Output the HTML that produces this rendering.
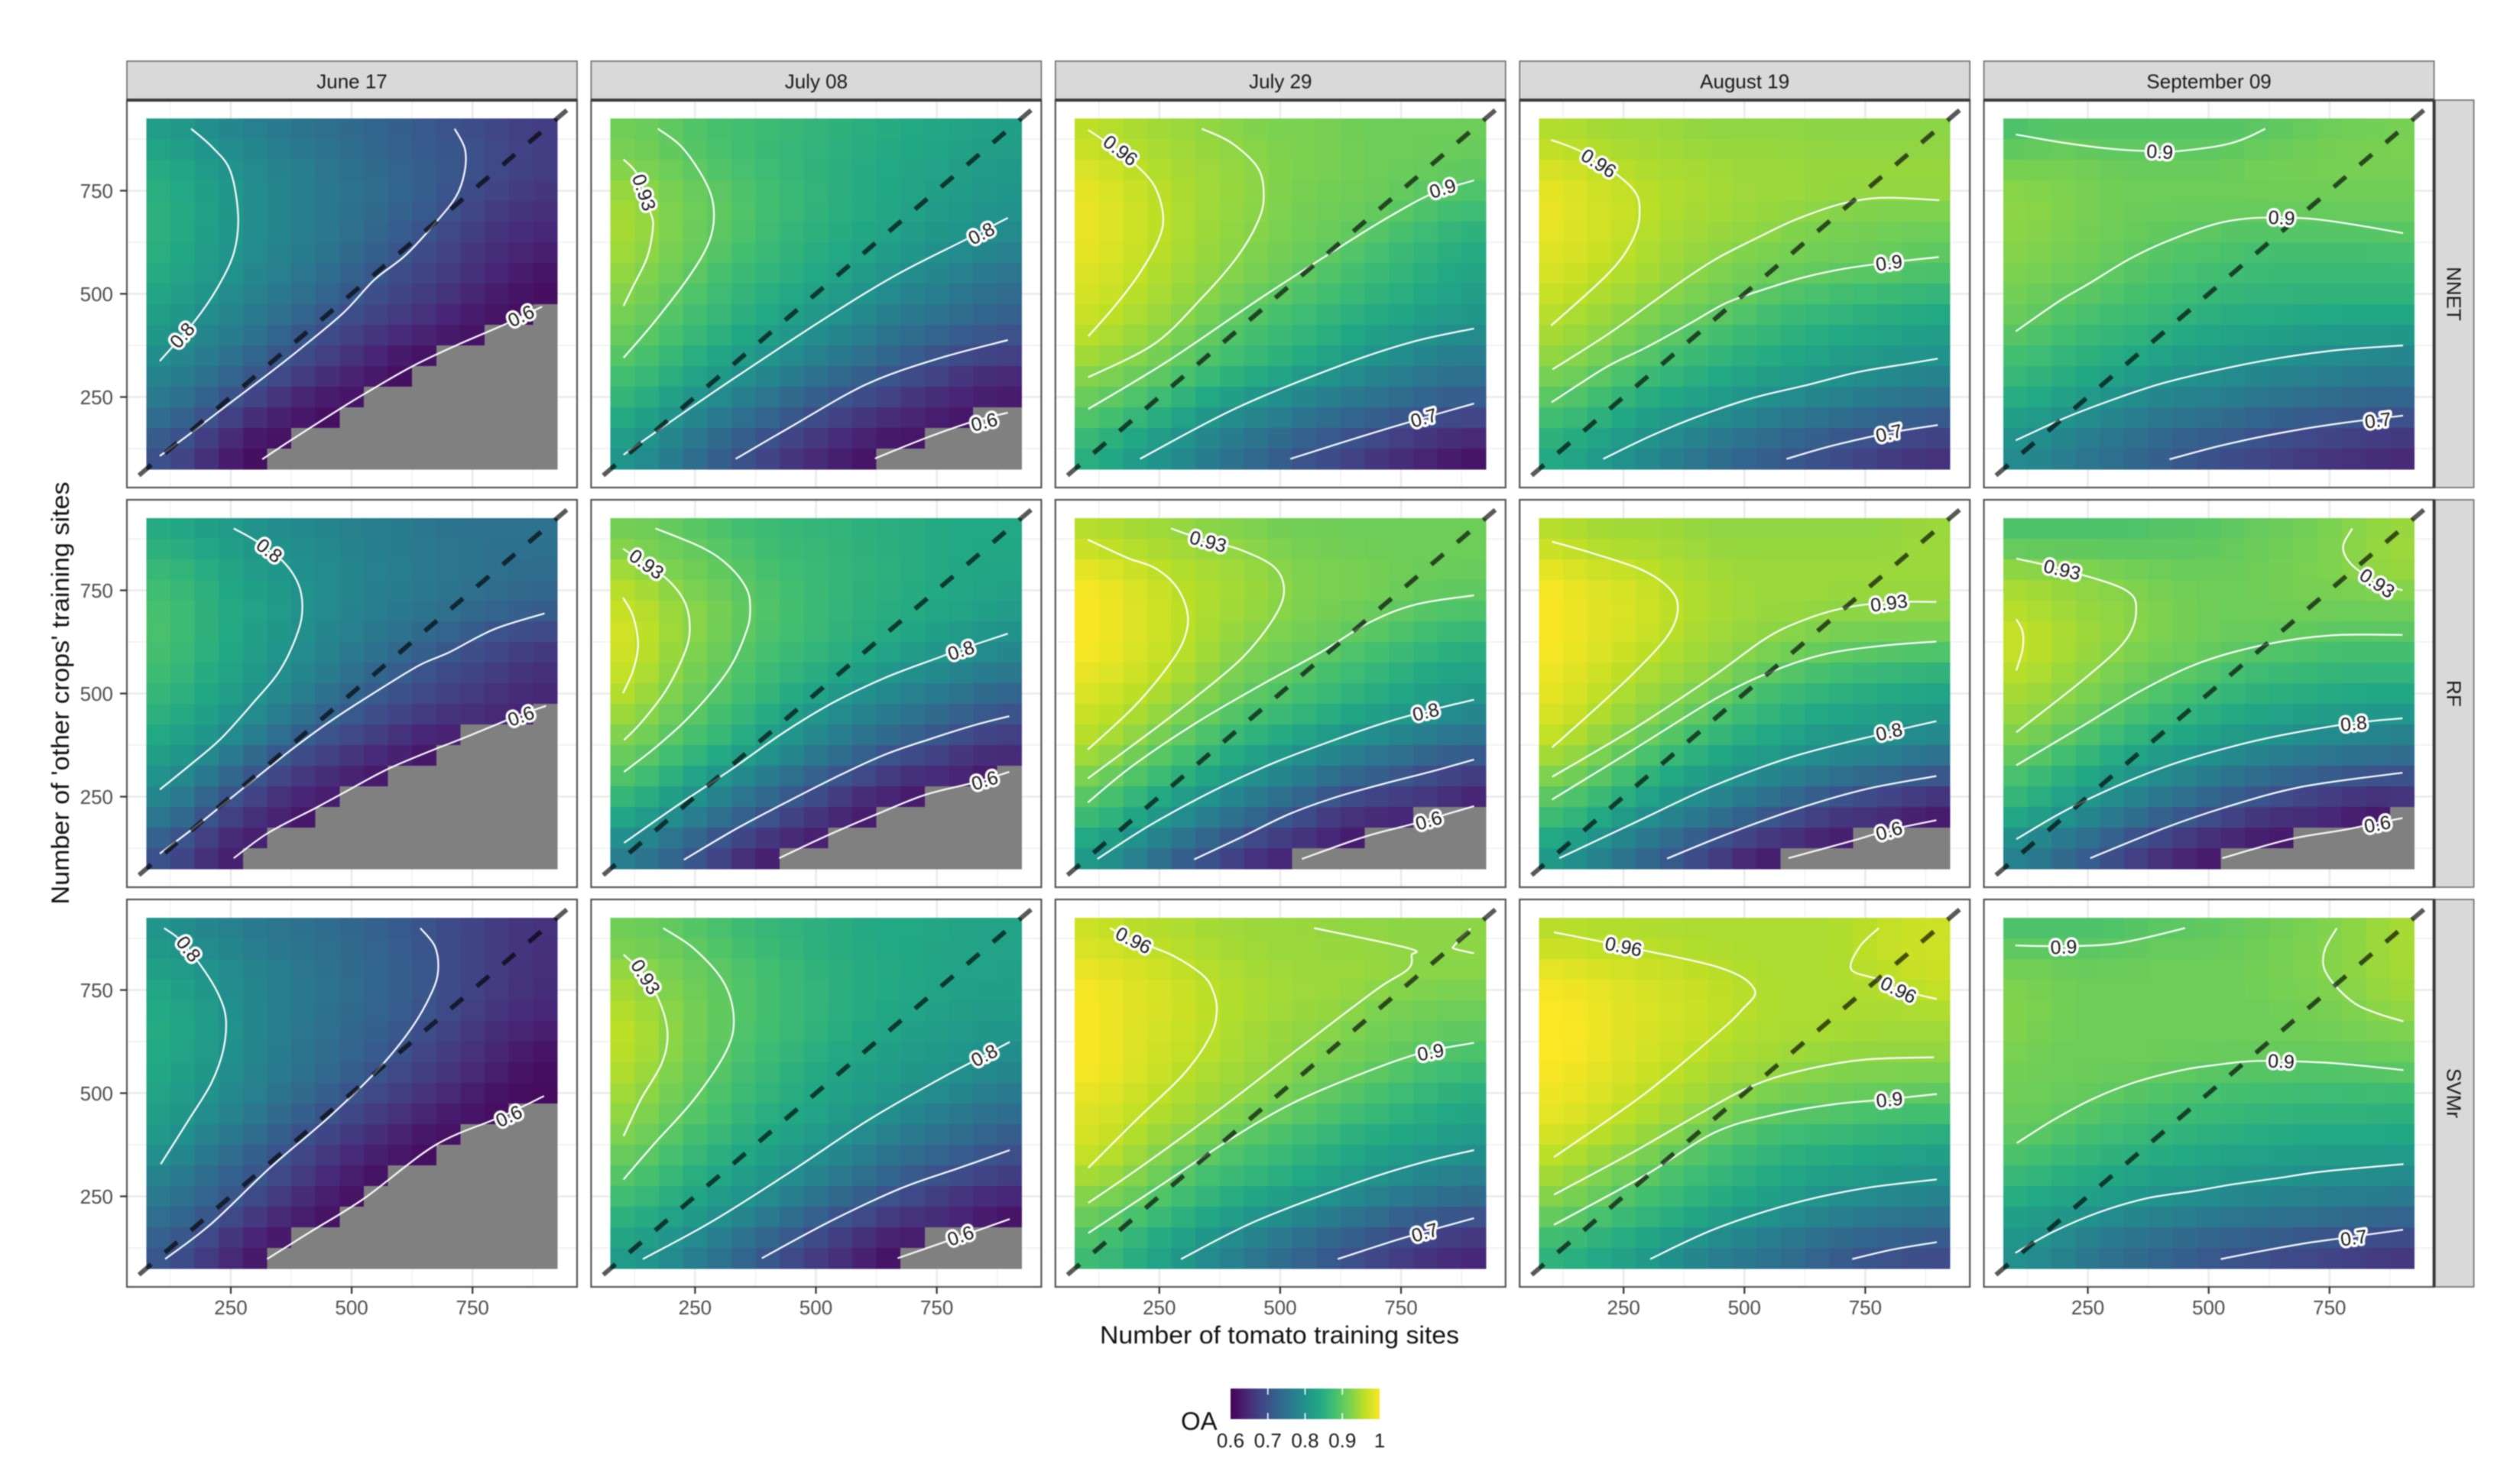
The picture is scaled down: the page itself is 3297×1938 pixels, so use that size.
<!DOCTYPE html>
<html lang="en">
<head>
<meta charset="utf-8">
<title>OA contour facets</title>
<style>
html,body{margin:0;padding:0;background:#fff;}
svg{display:block;font-family:"Liberation Sans",sans-serif;filter:blur(0.7px);}
</style>
</head>
<body>
<svg id="chart" xmlns="http://www.w3.org/2000/svg" width="3297" height="1938" viewBox="0 0 3297 1938">
<rect x="0" y="0" width="3297" height="1938" fill="#ffffff"/>
<g id="facets"></g>
<text x="1674" y="1758" font-size="32" fill="#111" text-anchor="middle" textLength="470" lengthAdjust="spacingAndGlyphs">Number of tomato training sites</text>
<text transform="translate(90,907) rotate(-90)" font-size="32" fill="#111" text-anchor="middle" textLength="553" lengthAdjust="spacingAndGlyphs">Number of 'other crops' training sites</text>
<g id="legend">
<text x="1545" y="1871" font-size="33" fill="#111">OA</text>
</g>
</svg>
<script>
// ---- categories ----
const sitesX = [100,150,200,250,300,350,400,450,500,550,600,650,700,750,800,850,900];
const sitesY = [900,850,800,750,700,650,600,550,500,450,400,350,300,250,200,150,100];
const dates = ["June 17","July 08","July 29","August 19","September 09"];
const methods = ["NNET","RF","SVMr"];
const majorTicks = [250,500,750];
const minorTicks = [125,375,625,875];
const tickLabels = ["250","500","750"];
const legendTicks = [0.6,0.7,0.8,0.9,1];
const legendLabels = ["0.6","0.7","0.8","0.9","1"];
const diagonal = [60,945];

// ---- OA in percent; rows run from y=900 down to y=100; 0 means below the colour limit ----
const oaNnetJune = [
[82,81,79,78,77,76,75,74,74,73,72,71,70,69,68,67,67],
[84,82,81,79,78,77,76,75,74,73,72,71,71,70,69,68,67],
[85,83,82,80,79,78,77,76,75,74,73,72,71,70,69,68,67],
[86,84,83,81,79,78,77,76,75,74,73,72,71,69,68,67,66],
[86,84,83,81,79,78,77,76,75,74,73,71,70,68,67,66,65],
[86,84,83,81,79,78,77,76,75,73,72,70,69,67,66,65,64],
[86,84,82,81,79,78,77,75,74,72,71,69,68,66,65,64,63],
[85,83,82,80,78,77,76,74,73,71,69,68,67,66,64,63,62],
[84,82,81,79,78,76,75,73,71,70,68,67,66,64,63,62,61],
[83,81,79,78,76,75,73,71,69,68,67,66,64,63,62,61,0],
[82,80,78,77,75,73,71,69,68,66,65,64,62,61,0,0,0],
[80,78,77,75,73,71,69,67,66,64,62,61,0,0,0,0,0],
[78,77,75,73,71,69,67,66,64,62,61,0,0,0,0,0,0],
[77,75,73,70,68,66,64,62,61,0,0,0,0,0,0,0,0],
[75,73,70,68,65,63,62,61,0,0,0,0,0,0,0,0,0],
[72,70,67,64,62,61,0,0,0,0,0,0,0,0,0,0,0],
[70,67,65,62,61,0,0,0,0,0,0,0,0,0,0,0,0]];
const oaNnetJul08 = [
[91,91,90,89,88,88,87,87,86,86,85,85,84,84,83,83,83],
[92,91,90,89,88,88,87,86,86,85,85,84,84,83,83,82,82],
[93,92,91,90,89,88,87,86,86,85,84,84,83,83,82,82,81],
[94,93,92,91,90,89,88,87,86,85,85,84,83,83,82,81,81],
[95,94,92,91,90,89,88,87,86,85,84,84,83,82,81,81,80],
[95,94,92,91,90,89,87,86,85,85,84,83,82,81,81,80,79],
[95,93,92,91,89,88,87,86,85,84,83,82,81,80,79,78,77],
[94,92,91,90,88,87,86,85,84,83,82,81,79,78,77,76,75],
[93,92,90,89,87,86,85,84,83,82,80,79,78,77,76,75,74],
[92,91,89,88,87,85,84,83,81,80,79,77,76,75,74,73,72],
[91,90,88,87,85,84,83,81,79,78,77,75,74,73,72,71,70],
[90,88,87,85,84,82,81,79,78,76,75,74,72,70,69,68,67],
[88,87,85,83,81,80,78,76,75,74,72,70,69,68,66,65,64],
[87,85,83,81,79,77,76,74,72,70,69,68,66,65,64,63,62],
[85,83,80,78,76,74,73,71,69,68,66,65,64,63,61,0,0],
[83,80,78,76,74,72,70,68,66,65,63,62,61,0,0,0,0],
[81,78,76,73,71,69,67,65,64,63,61,0,0,0,0,0,0]];
const oaNnetJul29 = [
[96,95,95,94,94,93,93,92,92,92,92,91,91,91,91,91,91],
[97,96,95,95,94,94,93,93,92,92,92,91,91,91,91,91,91],
[98,97,96,95,95,94,94,93,93,92,92,92,91,91,91,90,90],
[99,98,97,96,95,94,94,93,92,92,91,91,91,90,90,89,89],
[99,98,97,96,95,94,94,93,92,92,91,91,91,90,89,88,87],
[99,98,97,96,95,94,93,93,92,91,91,91,89,88,87,86,85],
[99,98,97,96,95,94,93,92,92,91,90,89,88,87,86,85,84],
[98,97,96,95,94,93,93,92,91,90,89,88,87,86,85,84,83],
[98,97,96,95,94,93,92,91,90,89,88,87,86,85,84,83,82],
[97,96,95,94,93,92,90,89,88,87,86,85,84,84,83,82,81],
[96,95,94,93,92,90,89,88,87,86,85,84,83,82,80,79,79],
[95,94,93,92,90,89,88,87,86,85,84,82,80,79,78,77,77],
[93,92,91,90,89,87,86,85,83,82,80,79,78,77,76,75,74],
[91,90,89,87,86,84,82,81,79,78,77,76,75,74,73,72,72],
[90,88,87,85,83,81,79,78,77,76,74,73,72,71,70,69,68],
[87,85,84,82,80,78,76,75,74,72,71,70,69,67,66,65,64],
[85,83,81,79,78,76,74,73,71,69,68,67,65,64,63,62,61]];
const oaNnetAug19 = [
[95,95,94,94,94,94,93,93,93,93,93,93,93,93,93,93,93],
[96,96,95,95,95,94,94,94,94,94,94,93,93,93,93,93,93],
[98,97,97,95,95,95,95,94,94,94,94,94,94,94,94,94,94],
[99,98,97,97,96,95,95,95,94,94,94,94,94,94,94,94,94],
[99,98,97,97,96,95,95,94,94,94,94,93,92,92,92,92,92],
[99,98,97,97,95,95,94,94,94,93,92,92,92,92,91,91,91],
[98,98,97,96,95,94,94,93,92,92,92,91,91,91,91,90,90],
[98,97,96,95,95,94,93,92,92,91,91,91,90,90,90,89,89],
[97,96,95,95,94,93,92,91,91,89,89,88,88,87,87,86,86],
[96,95,94,93,92,91,91,90,89,88,87,86,86,85,85,84,84],
[95,94,93,92,91,90,89,88,87,86,85,85,84,84,83,83,82],
[94,93,92,91,89,88,87,86,85,85,84,83,82,82,81,81,80],
[92,91,90,88,87,86,85,84,83,82,82,81,80,79,79,78,78],
[90,89,88,86,85,84,83,82,81,80,79,78,78,77,76,75,75],
[88,87,85,84,82,81,80,79,78,77,76,75,74,73,73,72,71],
[86,85,83,82,80,79,78,76,75,74,73,72,71,70,69,68,67],
[84,82,81,79,78,76,75,73,72,71,70,69,68,67,66,65,65]];
const oaNnetSep09 = [
[88,88,89,89,89,89,89,89,89,89,89,90,90,91,91,91,92],
[90,91,91,90,90,90,90,90,90,90,91,91,91,92,92,92,92],
[92,92,92,92,91,91,91,91,91,91,92,92,92,92,92,92,92],
[93,93,92,92,91,91,91,91,91,91,91,91,91,91,91,91,91],
[93,93,92,92,91,91,91,91,91,91,91,91,91,91,91,91,91],
[93,93,92,92,91,91,90,90,90,89,89,89,89,89,89,89,90],
[93,92,92,91,91,90,89,89,89,88,88,88,88,88,88,88,88],
[92,92,91,91,90,89,89,88,88,88,87,87,87,87,87,87,87],
[92,91,90,90,89,88,88,87,87,86,86,86,86,86,86,86,86],
[91,90,89,88,88,87,87,86,85,85,85,85,84,84,84,84,84],
[90,89,88,87,86,86,85,84,84,83,83,82,82,82,81,81,81],
[88,87,86,85,85,84,83,82,82,81,81,80,80,79,79,79,78],
[87,86,85,84,83,82,81,80,80,79,78,78,77,77,76,76,76],
[85,84,83,82,80,79,78,78,77,77,76,75,75,74,74,73,73],
[83,82,80,79,78,77,76,75,75,74,73,72,72,71,71,70,70],
[80,79,78,77,75,74,73,72,72,71,70,69,68,68,67,67,66],
[79,78,76,75,74,73,72,70,69,68,68,67,66,65,65,64,64]];
const oaRfJune = [
[84,83,82,81,80,79,78,78,77,77,76,76,75,75,75,75,75],
[86,85,84,83,81,80,79,79,78,77,77,76,76,75,75,75,75],
[87,86,85,83,82,81,80,79,78,77,77,76,76,75,75,74,74],
[88,87,85,84,83,81,80,79,78,77,77,76,75,75,74,74,73],
[89,87,86,84,83,82,80,79,78,77,76,76,75,74,73,73,72],
[89,87,86,84,83,81,80,78,77,76,75,74,73,72,70,69,68],
[89,87,85,84,82,80,79,78,76,75,74,72,70,69,68,67,66],
[88,86,85,83,82,80,78,77,75,74,71,70,69,68,67,66,65],
[87,85,84,82,80,79,77,75,73,71,70,69,68,67,66,65,64],
[86,84,83,81,79,77,75,73,71,70,68,67,66,65,64,63,0],
[85,83,81,79,77,75,72,70,69,67,66,64,62,0,0,0,0],
[83,81,79,77,74,71,69,68,66,65,63,61,0,0,0,0,0],
[81,79,76,73,70,68,66,65,63,61,0,0,0,0,0,0,0],
[79,76,73,70,68,66,64,62,0,0,0,0,0,0,0,0,0],
[77,74,70,68,65,63,61,0,0,0,0,0,0,0,0,0,0],
[73,70,67,64,62,0,0,0,0,0,0,0,0,0,0,0,0],
[70,67,65,62,0,0,0,0,0,0,0,0,0,0,0,0,0]];
const oaRfJul08 = [
[91,91,90,89,88,87,87,86,86,86,85,85,85,84,84,84,84],
[93,92,91,91,90,89,88,87,87,86,86,85,85,84,84,84,84],
[95,93,92,91,90,89,88,87,87,86,86,85,85,84,84,83,83],
[96,95,93,92,91,90,89,88,87,86,86,85,85,84,84,83,83],
[97,96,94,93,92,90,89,88,87,86,85,85,84,84,83,83,82],
[98,96,94,93,92,90,89,88,87,86,85,85,84,83,82,81,80],
[98,96,94,92,91,89,88,87,86,85,84,83,82,81,80,79,78],
[97,95,93,92,90,89,87,86,85,84,83,81,80,79,78,77,76],
[96,94,92,91,89,88,86,85,83,81,79,78,77,76,75,74,72],
[95,93,91,90,88,86,85,83,80,79,78,77,75,74,73,71,70],
[93,91,90,88,87,85,82,80,78,77,75,74,73,71,69,68,67],
[91,90,88,86,85,83,81,79,77,75,73,70,69,68,67,65,64],
[90,88,85,83,80,78,76,74,72,70,68,67,65,64,63,61,0],
[87,85,83,80,78,76,74,71,69,67,65,63,61,0,0,0,0],
[84,82,79,77,75,73,70,68,66,64,61,0,0,0,0,0,0],
[81,78,76,73,70,68,66,64,61,0,0,0,0,0,0,0,0],
[76,74,72,69,67,64,61,0,0,0,0,0,0,0,0,0,0]];
const oaRfJul29 = [
[95,95,94,94,93,92,92,92,91,91,91,91,91,91,91,91,91],
[97,96,95,95,95,94,94,93,92,92,92,91,91,91,91,91,91],
[99,98,97,96,95,95,94,94,93,92,92,92,92,91,91,91,91],
[100,99,98,97,96,95,95,94,93,92,92,92,92,91,91,90,90],
[100,99,98,97,96,95,94,94,93,92,92,91,91,90,89,89,89],
[100,99,98,97,96,95,94,93,92,92,91,90,90,89,88,87,86],
[100,99,98,97,96,94,93,92,91,91,90,89,88,87,86,85,85],
[99,98,97,96,95,94,92,91,91,89,88,87,86,85,84,83,83],
[98,97,96,95,94,92,91,90,89,88,87,86,85,84,83,82,81],
[97,96,95,94,92,91,89,88,87,86,85,84,83,82,80,79,78],
[96,95,94,92,90,89,87,86,85,84,82,80,79,78,77,76,75],
[95,93,91,89,88,86,84,83,81,79,78,77,76,75,73,72,71],
[93,91,89,88,86,84,82,79,78,77,75,73,72,71,69,68,67],
[90,88,86,84,82,80,78,77,75,73,71,69,68,67,66,64,62],
[88,86,84,81,79,77,75,73,71,69,67,65,64,62,0,0,0],
[85,83,80,78,76,74,71,69,67,65,63,61,0,0,0,0,0],
[81,78,76,73,70,68,66,64,62,0,0,0,0,0,0,0,0]];
const oaRfAug19 = [
[95,95,94,94,94,94,93,93,93,93,93,93,93,93,93,94,94],
[97,96,95,95,95,95,94,94,94,94,94,94,94,94,94,94,94],
[99,98,97,97,96,95,95,94,94,94,94,94,94,94,94,94,94],
[100,99,98,98,97,96,95,95,94,94,94,94,94,94,94,94,94],
[100,99,98,98,97,96,95,95,94,94,94,94,93,93,93,93,93],
[100,99,98,98,97,96,95,94,94,93,93,92,92,92,92,92,92],
[100,99,98,97,96,95,94,94,93,92,92,91,90,90,89,89,89],
[99,98,97,96,95,94,94,93,91,90,89,88,87,87,86,86,85],
[99,98,96,95,94,93,93,90,89,88,87,86,85,85,84,84,83],
[98,97,95,94,93,92,90,89,87,86,85,84,83,83,82,81,81],
[97,95,94,93,91,89,88,86,85,84,83,82,81,81,80,79,79],
[95,94,92,90,88,87,85,84,83,82,81,79,78,78,77,76,75],
[93,91,90,88,86,84,83,81,80,78,77,76,75,74,73,72,70],
[90,89,87,85,83,81,79,78,76,75,74,72,70,69,68,67,66],
[88,86,84,82,80,78,76,75,73,71,69,67,66,65,63,62,61],
[85,83,81,78,76,74,72,70,68,66,64,63,61,0,0,0,0],
[81,78,76,74,72,70,68,65,63,61,0,0,0,0,0,0,0]];
const oaRfSep09 = [
[88,88,88,88,88,88,89,89,89,90,90,91,91,92,93,93,94],
[90,90,90,90,90,90,90,90,90,91,91,91,92,92,93,94,94],
[94,94,93,93,92,92,91,91,91,91,91,92,92,92,93,94,94],
[95,94,94,93,93,92,92,91,91,91,91,92,92,92,92,92,93],
[96,95,94,94,93,93,92,92,91,91,91,91,91,91,91,91,91],
[97,96,95,94,94,93,92,92,91,91,91,91,91,90,90,90,90],
[97,96,95,94,93,92,92,91,91,90,89,89,88,88,88,88,88],
[96,95,94,93,92,91,90,90,89,88,87,87,87,86,86,86,86],
[95,94,93,92,91,90,89,88,87,86,86,85,85,85,84,84,84],
[94,93,92,91,90,88,87,86,85,84,84,83,83,82,82,81,81],
[93,92,90,89,87,86,85,84,83,82,81,80,79,79,78,78,77],
[91,89,88,86,85,83,82,81,80,79,78,77,77,76,75,75,74],
[89,87,85,84,82,80,79,78,76,75,74,73,72,71,71,70,70],
[87,85,83,81,80,78,76,75,74,72,71,70,68,67,66,65,65],
[85,83,80,78,76,74,73,71,69,68,66,65,64,63,62,61,0],
[80,78,76,75,73,70,68,67,65,63,62,61,0,0,0,0,0],
[77,75,73,70,68,66,64,63,61,0,0,0,0,0,0,0,0]];
const oaSvmJune = [
[81,79,78,77,76,75,75,74,73,72,71,70,69,68,67,66,66],
[82,80,79,78,77,76,75,74,74,73,72,71,69,68,67,66,65],
[83,82,80,79,78,77,76,75,74,73,72,71,69,68,67,66,65],
[84,83,81,79,78,77,76,75,74,73,72,71,69,68,67,66,65],
[85,83,82,80,78,77,76,75,74,73,72,71,69,68,66,65,64],
[85,83,82,80,78,77,76,74,73,72,71,69,68,66,65,64,63],
[85,83,82,80,78,77,75,74,73,72,70,68,67,66,64,63,62],
[84,83,81,79,78,76,75,74,72,70,69,67,66,65,63,62,61],
[84,82,80,79,77,76,74,72,70,69,67,66,65,63,62,61,61],
[83,81,79,78,76,74,72,70,68,67,66,64,63,62,61,0,0],
[82,80,78,76,74,72,70,68,67,65,64,62,61,0,0,0,0],
[81,78,76,74,72,70,68,66,65,63,62,61,0,0,0,0,0],
[78,76,74,72,71,69,67,65,63,61,0,0,0,0,0,0,0],
[77,75,73,71,69,67,65,63,61,0,0,0,0,0,0,0,0],
[75,73,71,69,67,65,62,61,0,0,0,0,0,0,0,0,0],
[73,71,69,66,63,61,0,0,0,0,0,0,0,0,0,0,0],
[71,68,66,64,62,0,0,0,0,0,0,0,0,0,0,0,0]];
const oaSvmJul08 = [
[91,91,90,89,88,87,86,86,85,85,84,84,84,84,83,83,83],
[92,91,91,90,89,88,87,86,85,85,84,84,84,83,83,83,83],
[94,93,92,91,90,89,88,87,86,85,85,84,84,83,83,83,83],
[95,94,92,91,90,89,88,87,86,85,85,84,84,83,83,83,82],
[96,94,93,92,90,89,88,87,86,85,84,84,83,83,82,82,82],
[97,95,93,92,90,89,88,87,86,85,84,83,83,82,82,81,81],
[96,95,93,91,90,88,87,86,85,84,83,83,82,81,81,80,79],
[96,94,92,91,89,88,87,85,84,83,83,82,81,81,80,79,78],
[95,93,92,90,89,87,86,85,84,83,82,81,80,79,78,77,76],
[94,92,91,89,88,86,85,84,83,82,81,79,78,77,76,75,74],
[93,91,90,88,87,85,84,83,82,80,79,78,76,75,74,73,71],
[91,90,88,86,85,84,82,81,80,78,77,75,74,73,72,71,69],
[90,88,87,85,84,82,81,80,78,76,75,73,72,70,69,68,67],
[88,87,85,83,82,81,79,77,75,74,72,70,68,67,66,65,64],
[86,84,83,82,80,78,76,75,73,70,69,67,66,65,63,62,61],
[84,83,81,79,77,75,73,71,68,67,65,63,61,0,0,0,0],
[81,80,78,76,74,72,70,68,66,65,63,61,0,0,0,0,0]];
const oaSvmJul29 = [
[97,96,95,95,95,94,94,94,94,94,93,93,93,93,93,93,93],
[98,97,97,96,96,95,95,94,94,94,94,94,94,93,93,93,93],
[99,98,98,97,96,95,95,94,94,94,94,94,94,94,93,93,93],
[100,99,98,98,97,96,96,95,95,94,94,94,93,92,92,92,92],
[100,99,98,98,97,96,95,95,94,94,94,93,92,92,92,91,91],
[100,99,98,97,97,96,95,94,94,93,93,92,91,91,90,90,90],
[100,99,98,97,96,96,95,94,94,93,92,92,91,91,90,89,89],
[100,99,98,97,96,95,94,94,93,92,91,91,90,89,88,87,86],
[99,98,97,96,95,94,94,93,92,91,90,89,88,87,86,86,85],
[98,97,97,95,95,94,93,92,91,90,89,88,87,86,85,84,83],
[98,97,95,94,93,92,90,89,88,87,86,85,84,84,83,82,81],
[97,96,94,93,91,90,89,88,87,86,85,84,83,82,81,81,80],
[95,94,93,91,89,88,87,86,85,84,83,82,80,79,78,77,76],
[93,92,91,89,88,86,85,84,83,82,80,79,78,77,76,75,74],
[91,90,88,87,85,84,82,80,79,78,76,75,74,72,71,70,70],
[89,88,86,85,83,81,79,78,76,75,73,72,71,69,68,67,66],
[87,86,84,82,80,78,76,75,73,72,70,69,67,66,65,64,63]];
const oaSvmAug19 = [
[95,95,95,95,95,95,95,95,95,95,95,95,95,96,96,97,97],
[97,97,96,96,96,95,95,95,95,95,95,95,95,96,97,97,97],
[99,98,98,97,97,97,96,96,95,95,95,95,95,96,96,97,97],
[100,99,99,98,98,97,97,96,96,95,95,95,95,95,95,96,97],
[100,100,99,98,98,97,97,96,96,95,95,95,95,95,95,95,95],
[100,100,99,98,98,97,97,96,95,95,95,95,95,94,94,94,94],
[100,100,99,98,97,97,96,95,95,95,94,94,94,94,94,94,94],
[100,99,98,98,97,96,95,95,94,94,93,93,92,92,92,92,92],
[99,99,98,97,96,95,95,94,93,92,92,92,91,91,91,90,90],
[99,98,97,96,95,95,93,92,91,90,89,89,89,88,88,88,88],
[98,97,96,95,94,93,92,90,89,88,87,87,87,86,86,85,85],
[96,95,94,93,92,90,89,88,87,86,85,85,84,84,83,83,82],
[95,94,92,91,90,88,87,86,85,84,84,83,82,82,81,81,80],
[93,92,91,89,88,87,86,85,84,83,82,80,80,79,79,78,78],
[91,90,88,87,86,85,84,82,81,80,79,78,77,76,76,75,75],
[88,87,86,85,84,82,80,79,78,77,76,75,74,73,73,72,71],
[85,84,83,82,80,79,77,76,75,74,73,72,70,69,69,68,68]];
const oaSvmSep09 = [
[88,88,88,88,88,89,89,89,90,90,91,91,92,92,93,94,95],
[90,90,90,90,90,91,91,91,91,91,91,92,92,93,93,94,95],
[92,92,91,91,91,91,91,91,91,91,92,92,92,93,93,94,95],
[92,92,91,91,91,91,91,91,91,91,91,92,92,92,93,94,94],
[93,92,92,91,91,91,91,91,91,91,91,91,92,92,92,93,94],
[93,92,91,91,91,91,91,91,91,91,91,91,91,91,92,92,92],
[92,91,91,91,91,91,91,91,91,91,91,91,91,91,91,91,91],
[92,91,91,91,91,91,91,90,90,89,89,89,89,89,89,90,90],
[91,91,91,91,90,89,89,88,88,88,88,88,87,87,87,87,87],
[91,91,90,89,89,88,88,87,87,87,86,86,86,86,86,86,85],
[90,90,89,88,87,87,86,86,85,85,85,84,84,84,84,84,84],
[89,88,87,86,86,85,85,84,84,83,83,83,82,82,82,82,82],
[87,86,85,84,84,83,83,82,82,81,81,80,80,80,80,79,79],
[85,84,83,83,82,81,80,80,79,79,78,78,78,77,77,77,76],
[83,82,81,80,79,78,77,77,76,76,75,75,74,74,74,73,73],
[81,80,79,77,76,75,75,74,73,73,72,72,71,71,70,69,69],
[80,78,77,75,74,73,72,71,70,69,69,68,67,67,66,66,65]];

// ---- contour lines [sites x, sites y] ----
const linesNnetJune = [
[[168,900],[212,855],[249,798],[265,692],[257,602],[224,518],[176,435],[103,337]],
[[713,900],[734,852],[734,798],[717,738],[677,677],[612,594],[547,534],[483,454],[394,367],[329,307],[240,228],[160,156],[103,107]],
[[315,99],[374,145],[474,220],[527,258],[628,326],[724,379],[821,428],[894,469]]];
const linesNnetJul08 = [
[[102,826],[132,786],[157,700],[163,663],[151,589],[120,514],[102,471]],
[[173,900],[224,854],[273,768],[289,700],[279,626],[236,539],[163,428],[102,345]],
[[102,110],[188,181],[334,298],[518,440],[665,545],[811,632],[897,684]],
[[334,100],[444,175],[603,280],[750,342],[897,388]],
[[622,101],[726,150],[823,190],[897,212]]];
const linesNnetJul29 = [
[[103,897],[142,866],[197,817],[240,761],[258,687],[246,625],[203,539],[154,465],[103,397]],
[[338,900],[399,866],[454,805],[466,737],[454,675],[411,589],[338,490],[240,379],[103,298]],
[[103,221],[265,335],[460,490],[607,601],[717,681],[815,743],[901,775]],
[[210,100],[411,224],[631,329],[778,385],[901,416]],
[[521,100],[656,150],[778,193],[901,234]]];
const linesNnetAug19 = [
[[100,873],[162,845],[233,792],[276,743],[283,693],[276,650],[251,595],[215,545],[159,484],[100,423]],
[[103,317],[215,400],[307,477],[381,539],[448,589],[541,644],[602,678],[682,712],[737,727],[799,733],[903,727]],
[[101,237],[215,323],[295,369],[387,428],[461,477],[541,511],[620,539],[707,561],[799,576],[902,589]],
[[208,100],[307,156],[411,206],[522,249],[633,280],[737,311],[830,329],[900,343]],
[[587,100],[682,132],[799,163],[900,182]]];
const linesNnetSep09 = [
[[101,886],[206,865],[302,851],[399,845],[447,847],[528,860],[576,877],[617,900]],
[[101,409],[189,481],[254,526],[334,583],[407,624],[504,666],[576,682],[649,685],[721,681],[810,666],[902,647]],
[[101,145],[206,201],[310,247],[407,284],[528,318],[649,345],[770,364],[902,375]],
[[419,99],[528,133],[649,163],[770,186],[902,205]]];
const linesRfJune = [
[[256,900],[303,869],[358,820],[389,767],[398,712],[389,650],[352,557],[296,477],[229,390],[167,328],[103,267]],
[[103,112],[180,180],[272,267],[370,359],[456,433],[555,508],[641,569],[702,600],[795,656],[899,694]],
[[256,101],[327,162],[426,223],[475,254],[573,316],[672,365],[727,390],[844,446],[902,470]]];
const linesRfJul08 = [
[[101,732],[122,687],[132,619],[122,557],[101,501]],
[[101,851],[147,814],[196,773],[230,718],[239,653],[227,594],[190,508],[141,433],[103,387]],
[[168,900],[264,854],[319,810],[356,755],[364,705],[356,650],[319,557],[245,452],[171,372],[103,310]],
[[103,138],[215,230],[325,316],[430,403],[534,477],[645,539],[756,588],[799,607],[897,645]],
[[227,97],[338,174],[448,242],[553,304],[645,353],[737,390],[830,424],[900,445]],
[[424,101],[522,155],[627,208],[725,254],[830,285],[900,310]]];
const linesRfJul29 = [
[[102,873],[183,829],[241,804],[287,756],[309,689],[299,625],[261,555],[196,466],[102,364]],
[[274,900],[345,871],[416,849],[487,807],[508,750],[487,683],[422,587],[325,491],[248,421],[102,294]],
[[102,236],[196,326],[325,428],[455,517],[584,600],[681,670],[778,715],[901,738]],
[[122,99],[228,179],[358,262],[487,332],[616,389],[713,428],[798,456],[901,485]],
[[322,98],[422,153],[519,208],[616,249],[713,281],[810,310],[901,340]],
[[545,99],[675,153],[778,185],[901,227]]];
const linesRfAug19 = [
[[102,868],[188,839],[291,798],[349,749],[362,700],[340,638],[273,552],[188,459],[102,369]],
[[102,298],[273,416],[432,539],[542,632],[616,675],[701,706],[799,721],[897,722]],
[[102,243],[273,366],[444,490],[554,552],[665,595],[787,616],[897,626]],
[[117,101],[273,187],[432,274],[603,348],[787,403],[897,433]],
[[340,100],[457,156],[603,218],[750,268],[897,300]],
[[591,101],[726,144],[799,169],[897,193]]];
const linesRfSep09 = [
[[102,680],[115,650],[115,607],[102,556]],
[[102,827],[197,801],[326,752],[350,700],[326,626],[240,533],[102,406]],
[[797,900],[778,854],[797,811],[852,768],[901,750]],
[[102,326],[240,422],[362,508],[485,576],[619,619],[754,641],[901,642]],
[[102,147],[228,231],[411,323],[595,385],[778,425],[901,440]],
[[255,101],[411,175],[534,224],[693,274],[901,308]],
[[528,101],[668,147],[778,169],[839,184],[901,198]]];
const linesSvmJune = [
[[112,900],[148,868],[197,794],[227,733],[240,677],[234,603],[209,523],[160,430],[105,328]],
[[642,900],[672,856],[679,800],[666,745],[624,658],[551,553],[453,442],[331,319],[209,183],[114,98]],
[[325,98],[416,165],[526,245],[673,374],[807,442],[898,493]]];
const linesSvmJul08 = [
[[102,836],[138,794],[175,726],[193,646],[181,572],[138,485],[102,396]],
[[184,900],[248,850],[309,769],[330,683],[315,603],[248,485],[163,374],[102,291]],
[[142,98],[285,189],[443,306],[602,430],[748,529],[846,590],[901,624]],
[[388,100],[529,189],[675,269],[797,319],[901,362]],
[[669,100],[797,152],[901,195]]];
const linesSvmJul29 = [
[[148,900],[197,871],[277,834],[338,788],[360,751],[369,702],[356,640],[301,547],[203,436],[103,319]],
[[570,900],[766,851],[772,834],[764,800],[699,751],[546,615],[375,461],[216,325],[103,234]],
[[894,899],[861,859],[861,850],[901,839]],
[[103,161],[252,276],[387,381],[521,473],[668,547],[790,597],[901,622]],
[[295,98],[448,189],[656,282],[790,331],[901,362]],
[[619,98],[729,140],[790,161],[901,197]]];
const linesSvmAug19 = [
[[106,890],[250,856],[452,803],[521,751],[495,702],[439,640],[293,498],[106,345]],
[[778,900],[739,856],[721,800],[776,776],[819,751],[898,728]],
[[106,254],[268,356],[415,455],[513,516],[611,553],[745,581],[892,587]],
[[106,181],[293,300],[439,405],[562,448],[684,473],[794,485],[898,498]],
[[305,98],[439,171],[598,232],[745,269],[898,291]],
[[723,98],[806,121],[898,139]]];
const linesSvmSep09 = [
[[100,858],[198,856],[297,861],[371,877],[451,900]],
[[765,900],[741,850],[738,806],[760,763],[803,717],[852,692],[903,674]],
[[103,379],[180,436],[260,486],[346,526],[445,556],[519,569],[581,577],[649,578],[766,572],[903,556]],
[[100,113],[180,165],[272,211],[371,245],[470,263],[550,279],[643,294],[735,310],[903,328]],
[[525,98],[612,118],[704,137],[797,152],[902,169]]];

// ---- printed contour labels [text, sites x, sites y] ----
const labelsNnetJune = [["0.8",149,400],["0.6",850,447]];
const labelsNnetJul08 = [["0.93",145,746],["0.8",842,647],["0.6",848,190]];
const labelsNnetJul29 = [["0.96",170,848],["0.9",836,756],["0.7",797,200]];
const labelsNnetAug19 = [["0.96",199,817],["0.9",799,576],["0.7",799,163]];
const labelsNnetSep09 = [["0.9",399,845],["0.9",651,685],["0.7",850,194]];
const labelsRfJune = [["0.8",330,847],["0.6",850,446]];
const labelsRfJul08 = [["0.93",150,814],["0.8",800,605],["0.6",849,290]];
const labelsRfJul29 = [["0.93",351,869],["0.8",801,456],["0.6",807,193]];
const labelsRfAug19 = [["0.93",799,720],["0.8",799,408],["0.6",799,168]];
const labelsRfSep09 = [["0.93",197,801],["0.93",849,768],["0.8",800,428],["0.6",849,184]];
const labelsSvmJune = [["0.8",163,850],["0.6",825,445]];
const labelsSvmJul08 = [["0.93",148,782],["0.8",848,592],["0.6",799,155]];
const labelsSvmJul29 = [["0.96",197,871],["0.9",811,600],["0.7",799,163]];
const labelsSvmAug19 = [["0.96",250,856],["0.96",819,751],["0.9",800,485]];
const labelsSvmSep09 = [["0.9",200,855],["0.9",650,578],["0.7",800,150]];

const panelFields = [
 [oaNnetJune,oaNnetJul08,oaNnetJul29,oaNnetAug19,oaNnetSep09],
 [oaRfJune,oaRfJul08,oaRfJul29,oaRfAug19,oaRfSep09],
 [oaSvmJune,oaSvmJul08,oaSvmJul29,oaSvmAug19,oaSvmSep09]];
const panelLines = [
 [linesNnetJune,linesNnetJul08,linesNnetJul29,linesNnetAug19,linesNnetSep09],
 [linesRfJune,linesRfJul08,linesRfJul29,linesRfAug19,linesRfSep09],
 [linesSvmJune,linesSvmJul08,linesSvmJul29,linesSvmAug19,linesSvmSep09]];
const panelLabels = [
 [labelsNnetJune,labelsNnetJul08,labelsNnetJul29,labelsNnetAug19,labelsNnetSep09],
 [labelsRfJune,labelsRfJul08,labelsRfJul29,labelsRfAug19,labelsRfSep09],
 [labelsSvmJune,labelsSvmJul08,labelsSvmJul29,labelsSvmAug19,labelsSvmSep09]];

// ---- layout and scales ----
const NS = "http://www.w3.org/2000/svg";
const colPitch = 607.4, rowPitch = 523, panelW = 589, panelH = 507;
const firstLeft = 166, firstTop = 131;
const rasterInsetX = 25.3, rasterInsetY = 24, rasterH = 459;
const pxPerX = 537.6 / 850, pxPerY = rasterH / 850, domainMin = 75;
const viridis = ["#440154","#482475","#414487","#355f8d","#2a788e","#21918c","#22a884","#44bf70","#7ad151","#bddf26","#fde725"];
const smoothKernel = [[1,2,1],[2,4,2],[1,2,1]];

function panelLeft(c){ return firstLeft + c * colPitch; }
function panelTop(r){ return firstTop + r * rowPitch; }
function xScale(v, c){ return panelLeft(c) + rasterInsetX + (v - domainMin) * pxPerX; }
function yScale(v, r){ return panelTop(r) + rasterInsetY + rasterH - (v - domainMin) * pxPerY; }
function hexToRgb(h){ return [1,3,5].map(function(i){ return parseInt(h.substr(i,2),16); }); }
function colorFor(oa){
  const t = Math.max(0, Math.min(1, (oa - 0.6) / 0.4)) * (viridis.length - 1);
  const i = Math.min(viridis.length - 2, Math.floor(t));
  const a = hexToRgb(viridis[i]), b = hexToRgb(viridis[i + 1]), f = t - i;
  return "rgb(" + a.map(function(v, k){ return Math.round(v + (b[k] - v) * f); }).join(",") + ")";
}
// values are whole percents, so average over neighbours to hide rounding steps
function displayValue(field, ri, ci){
  let sum = 0, weight = 0;
  for (let dr = -1; dr <= 1; dr++){
    for (let dc = -1; dc <= 1; dc++){
      const row = field[ri + dr];
      if (!row) continue;
      const v = row[ci + dc];
      if (!v) continue;
      const w = smoothKernel[dr + 1][dc + 1];
      sum += v * w;
      weight += w;
    }
  }
  return sum / weight;
}
function make(tag, attrs, parent){
  const el = document.createElementNS(NS, tag);
  for (const k in attrs) el.setAttribute(k, attrs[k]);
  parent.appendChild(el);
  return el;
}
function smoothPath(pts){
  let d = "M" + pts[0][0].toFixed(1) + "," + pts[0][1].toFixed(1);
  for (let i = 0; i < pts.length - 1; i++){
    const p0 = pts[i - 1] || pts[i], p1 = pts[i], p2 = pts[i + 1], p3 = pts[i + 2] || p2;
    const c1x = p1[0] + (p2[0] - p0[0]) / 6, c1y = p1[1] + (p2[1] - p0[1]) / 6;
    const c2x = p2[0] - (p3[0] - p1[0]) / 6, c2y = p2[1] - (p3[1] - p1[1]) / 6;
    d += "C" + c1x.toFixed(1) + "," + c1y.toFixed(1) + " " + c2x.toFixed(1) + "," + c2y.toFixed(1) + " " + p2[0].toFixed(1) + "," + p2[1].toFixed(1);
  }
  return d;
}
function labelAngle(lines, x, y, c, r){
  let best = Infinity, angle = 0;
  lines.forEach(function(line){
    for (let i = 0; i < line.length - 1; i++){
      const ax = xScale(line[i][0], c), ay = yScale(line[i][1], r);
      const bx = xScale(line[i+1][0], c), by = yScale(line[i+1][1], r);
      const px = xScale(x, c), py = yScale(y, r);
      const dx = bx - ax, dy = by - ay;
      const t = Math.max(0, Math.min(1, ((px-ax)*dx + (py-ay)*dy) / (dx*dx + dy*dy)));
      const d = Math.hypot(ax + t*dx - px, ay + t*dy - py);
      if (d < best){ best = d; angle = Math.atan2(dy, dx) * 180 / Math.PI; }
    }
  });
  if (angle > 90) angle -= 180;
  if (angle < -90) angle += 180;
  return angle;
}

const root = document.getElementById("facets");

// column strips
dates.forEach(function(date, c){
  const strip = make("rect", {x: panelLeft(c), y: 80, width: panelW, height: 51, fill: "#d9d9d9", stroke: "#6a6a6a", "stroke-width": 1.6}, root);
  
  
  const t = make("text", {x: panelLeft(c) + panelW / 2, y: 115.5, "font-size": 26, fill: "#1a1a1a", "text-anchor": "middle"}, root);
  
  
  t.textContent = date;
});

// row strips
methods.forEach(function(method, r){
  const strip = make("rect", {x: panelLeft(4) + panelW, y: panelTop(r), width: 52, height: panelH, fill: "#d9d9d9", stroke: "#6a6a6a", "stroke-width": 1.6}, root);
  
  
  const cx = panelLeft(4) + panelW + 26, cy = panelTop(r) + panelH / 2;
  const t = make("text", {transform: "translate(" + cx + "," + cy + ") rotate(90)", y: 9, "font-size": 26, fill: "#1a1a1a", "text-anchor": "middle"}, root);
  
  
  t.textContent = method;
});

// panels
methods.forEach(function(method, r){
  dates.forEach(function(date, c){
    const L = panelLeft(c), T = panelTop(r);
    const g = make("g", {}, root);
    
    

    const minorGrid = make("g", {stroke: "#f0f0f0", "stroke-width": 1.4}, g);
    
    
    minorTicks.forEach(function(v){
      const vl = make("line", {x1: xScale(v, c), x2: xScale(v, c), y1: T, y2: T + panelH}, minorGrid);
      
      
      const hl = make("line", {x1: L, x2: L + panelW, y1: yScale(v, r), y2: yScale(v, r)}, minorGrid);
      
      
    });
    const majorGrid = make("g", {stroke: "#ebebeb", "stroke-width": 2.6}, g);
    
    
    majorTicks.forEach(function(v){
      const vl = make("line", {x1: xScale(v, c), x2: xScale(v, c), y1: T, y2: T + panelH}, majorGrid);
      
      
      const hl = make("line", {x1: L, x2: L + panelW, y1: yScale(v, r), y2: yScale(v, r)}, majorGrid);
      
      
    });

    const cells = make("g", {"shape-rendering": "crispEdges"}, g);
    
    
    const field = panelFields[r][c];
    sitesY.forEach(function(yv, ri){
      sitesX.forEach(function(xv, ci){
        const v = field[ri][ci];
        const cell = make("rect", {
          x: xScale(xv - 25, c), y: yScale(yv + 25, r),
          width: 50 * pxPerX + 0.6, height: 50 * pxPerY + 0.6,
          fill: v > 0 ? colorFor(displayValue(field, ri, ci) / 100) : "#808080"
        }, cells);
        
        
      });
    });

    panelLines[r][c].forEach(function(line){
      const pts = line.map(function(p){ return [xScale(p[0], c), yScale(p[1], r)]; });
      const pl = make("path", {d: smoothPath(pts), fill: "none", stroke: "#ffffff", "stroke-width": 2.2, "stroke-linejoin": "round"}, g);
      
      
    });

    const diag = make("line", {
      x1: xScale(diagonal[0], c), y1: yScale(diagonal[0], r),
      x2: xScale(diagonal[1], c), y2: yScale(diagonal[1], r),
      stroke: "#000000", "stroke-opacity": 0.65, "stroke-width": 6, "stroke-dasharray": "21 23.7"
    }, g);
    
    

    panelLabels[r][c].forEach(function(lab){
      const px = xScale(lab[1], c), py = yScale(lab[2], r);
      const ang = labelAngle(panelLines[r][c], lab[1], lab[2], c, r);
      const t = make("text", {
        transform: "translate(" + px.toFixed(1) + "," + py.toFixed(1) + ") rotate(" + ang.toFixed(1) + ")",
        y: 9, "font-size": 25, fill: "#111", stroke: "#ffffff", "stroke-width": 7,
        "stroke-linejoin": "round", "paint-order": "stroke", "text-anchor": "middle"
      }, g);
      
      
      t.textContent = lab[0];
    });

    const border = make("rect", {x: L, y: T, width: panelW, height: panelH, fill: "none", stroke: "#555555", "stroke-width": 2.2}, g);
    
    

    if (c === 0){
      majorTicks.forEach(function(v, i){
        const tk = make("line", {x1: L - 9, x2: L, y1: yScale(v, r), y2: yScale(v, r), stroke: "#333", "stroke-width": 2.2}, g);
        
        
        const tl = make("text", {x: L - 18, y: yScale(v, r) + 9.5, "font-size": 26, fill: "#4d4d4d", "text-anchor": "end"}, g);
        
        
        tl.textContent = tickLabels[i];
      });
    }
    if (r === methods.length - 1){
      majorTicks.forEach(function(v, i){
        const tk = make("line", {x1: xScale(v, c), x2: xScale(v, c), y1: T + panelH, y2: T + panelH + 9, stroke: "#333", "stroke-width": 2.2}, g);
        
        
        const tl = make("text", {x: xScale(v, c), y: T + panelH + 36, "font-size": 26, fill: "#4d4d4d", "text-anchor": "middle"}, g);
        
        
        tl.textContent = tickLabels[i];
      });
    }
  });
});

// thick edges shared by strips and panels
dates.forEach(function(date, c){
  const edge = make("line", {x1: panelLeft(c), x2: panelLeft(c) + panelW, y1: firstTop, y2: firstTop, stroke: "#3a3a3a", "stroke-width": 4}, root);
  
  
});
methods.forEach(function(method, r){
  const edge = make("line", {x1: panelLeft(4) + panelW, x2: panelLeft(4) + panelW, y1: panelTop(r), y2: panelTop(r) + panelH, stroke: "#3a3a3a", "stroke-width": 4}, root);
  
  
});

// legend
const legend = document.getElementById("legend");
const legX0 = 1610, legX1 = 1805, legY0 = 1817, legY1 = 1857;
function legendX(v){ return legX0 + (v - legendTicks[0]) / (legendTicks[legendTicks.length - 1] - legendTicks[0]) * (legX1 - legX0); }
const defs = make("defs", {}, legend);


const grad = make("linearGradient", {id: "viridisGrad", x1: 0, x2: 1, y1: 0, y2: 0}, defs);


viridis.forEach(function(col, i){
  const st = make("stop", {offset: i / (viridis.length - 1), "stop-color": col}, grad);
  
  
});
const bar = make("rect", {x: legX0, y: legY0, width: legX1 - legX0, height: legY1 - legY0, fill: "url(#viridisGrad)"}, legend);


legendTicks.forEach(function(v, i){
  if (i > 0 && i < legendTicks.length - 1){
    const a = make("line", {x1: legendX(v), x2: legendX(v), y1: legY0, y2: legY0 + 8, stroke: "#fff", "stroke-width": 1.6}, legend);
    
    
    const b = make("line", {x1: legendX(v), x2: legendX(v), y1: legY1 - 8, y2: legY1, stroke: "#fff", "stroke-width": 1.6}, legend);
    
    
  }
  const t = make("text", {x: legendX(v), y: 1894, "font-size": 26, fill: "#1a1a1a", "text-anchor": "middle"}, legend);
  
  
  t.textContent = legendLabels[i];
});
</script>
</body>
</html>
